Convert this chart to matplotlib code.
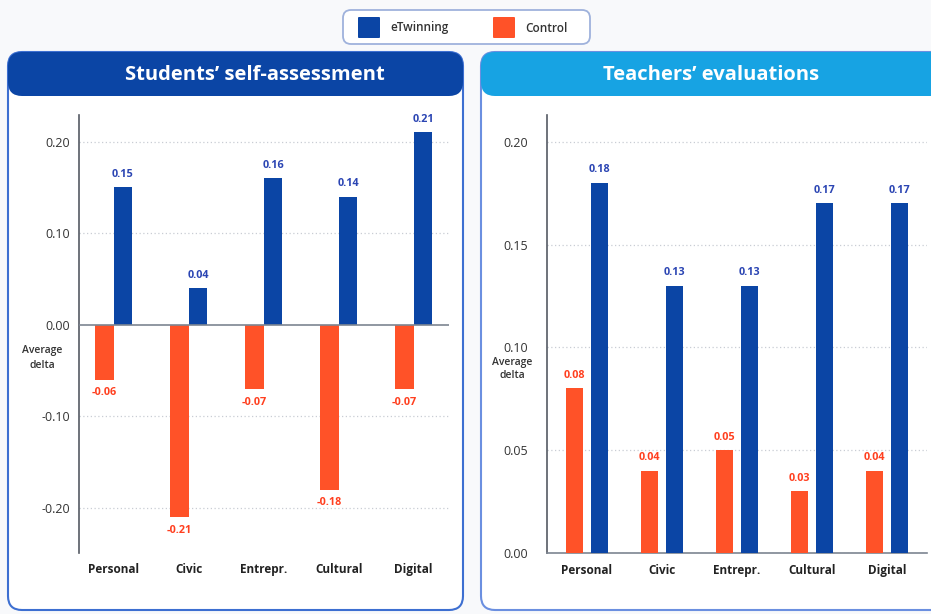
import numpy as np
import matplotlib
matplotlib.use('Agg')
import matplotlib.pyplot as plt
from matplotlib.patches import FancyBboxPatch

plt.rcParams['font.family'] = ['Open Sans', 'DejaVu Sans']

# Data
categories = ['Personal', 'Civic', 'Entrepr.', 'Cultural', 'Digital']
students_etwinning = [0.15, 0.04, 0.16, 0.14, 0.21]
students_control = [-0.06, -0.21, -0.07, -0.18, -0.07]
teachers_etwinning = [0.18, 0.13, 0.13, 0.17, 0.17]
teachers_control = [0.08, 0.04, 0.05, 0.03, 0.04]
series_names = ['eTwinning', 'Control']

BLUE = '#0b45a5'
ORANGE = '#ff5228'
BLUE_TXT = '#2b45b3'
ORANGE_TXT = '#ff3f1f'

W, H = 931, 614
fig = plt.figure(figsize=(W / 100, H / 100), dpi=100)
fig.patch.set_facecolor('#f8f9fb')


def rbox(x0, y0, x1, y1, r, **kw):
    # rounded box in pixel coords (top-left origin)
    p = FancyBboxPatch((x0 / 100, (H - y1) / 100), (x1 - x0) / 100, (y1 - y0) / 100,
                       boxstyle=f"round,pad=0,rounding_size={r / 100}",
                       transform=fig.dpi_scale_trans, **kw)
    fig.patches.append(p)
    return p


def ftext(x, y, s, **kw):
    fig.text(x / W, 1 - y / H, s, **kw)


def ax_rect(x0, y0, x1, y1):
    return [x0 / W, 1 - y1 / H, (x1 - x0) / W, (y1 - y0) / H]


# Panels
rbox(8, 52, 463, 610, 14, facecolor='white', edgecolor='#3d6fd1', lw=1.5, zorder=-5)
rbox(8, 52, 463, 96, 14, facecolor=BLUE, edgecolor='none', zorder=-4)
ftext(255, 75, 'Students\u2019 self-assessment', color='white', fontsize=14.5,
      fontweight='bold', ha='center', va='center')

rbox(481, 52, 950, 610, 14, facecolor='white', edgecolor='#6b8fe0', lw=1.5, zorder=-5)
rbox(481, 52, 950, 96, 14, facecolor='#17a3e3', edgecolor='none', zorder=-4)
ftext(711, 75, 'Teachers\u2019 evaluations', color='white', fontsize=14.5,
      fontweight='bold', ha='center', va='center')

# Legend
rbox(343, 10, 590, 44, 8, facecolor='white', edgecolor='#9fb2dc', lw=1.3, zorder=-5)
rbox(358, 17, 380, 38, 1, facecolor=BLUE, edgecolor='none', zorder=-4)
rbox(493, 17, 515, 38, 1, facecolor=ORANGE, edgecolor='none', zorder=-4)
ftext(390, 28, series_names[0], fontsize=8.5, fontweight='semibold', color='#333333', va='center')
ftext(525, 28, series_names[1], fontsize=8.5, fontweight='semibold', color='#333333', va='center')


def style_ax(ax, ypad, xpad):
    ax.set_facecolor('none')
    for s in ['top', 'right', 'bottom']:
        ax.spines[s].set_visible(False)
    ax.spines['left'].set_color('#555a63')
    ax.spines['left'].set_linewidth(1.2)
    ax.tick_params(axis='both', length=0)
    ax.tick_params(axis='y', pad=ypad, labelsize=9, labelcolor='#333333')
    ax.tick_params(axis='x', pad=xpad, labelsize=8.5, labelcolor='#222222')
    for lab in ax.get_xticklabels():
        lab.set_fontweight('bold')
    ax.grid(axis='y', linestyle=(0, (1, 2)), color='#c9cdd4', lw=0.9)
    ax.set_axisbelow(True)


def label_bars(ax, xs, vals, color):
    for xv, v in zip(xs, vals):
        ax.annotate(f'{v:.2f}', (xv, v), xytext=(0, 5.5 if v >= 0 else -5.5),
                    textcoords='offset points', ha='center',
                    va='bottom' if v >= 0 else 'top',
                    fontsize=7.8, fontweight='bold', color=color)


x = np.arange(len(categories))

# Left: students
ax1 = fig.add_axes(ax_rect(79, 115, 449, 553))
w1 = 0.25
ax1.bar(x - w1 / 2, students_control, w1, color=ORANGE, zorder=3)
ax1.bar(x + w1 / 2, students_etwinning, w1, color=BLUE, zorder=3)
label_bars(ax1, x - w1 / 2, students_control, ORANGE_TXT)
label_bars(ax1, x + w1 / 2, students_etwinning, BLUE_TXT)
ax1.axhline(0, color='#7d8591', lw=1.2, zorder=4)
ax1.set_xlim(-0.46, 4.47)
ax1.set_ylim(-0.249, 0.229)
ax1.set_yticks([-0.2, -0.1, 0.0, 0.1, 0.2])
ax1.set_yticklabels([f'{t:.2f}' for t in [-0.2, -0.1, 0.0, 0.1, 0.2]])
ax1.set_xticks(x, categories)
style_ax(ax1, 6.5, 7)
ax1.grid(False)
for t in [-0.2, -0.1, 0.1, 0.2]:
    ax1.axhline(t, linestyle=(0, (1, 2)), color='#c9cdd4', lw=0.9, zorder=0)
ftext(42, 351, 'Average', fontsize=7.5, fontweight='semibold', color='#333333', ha='center', va='center')
ftext(42, 365, 'delta', fontsize=7.5, fontweight='semibold', color='#333333', ha='center', va='center')

# Right: teachers
ax2 = fig.add_axes(ax_rect(547, 115, 927, 553))
off2, w2 = 0.167, 0.225
ax2.bar(x - off2, teachers_control, w2, color=ORANGE, zorder=3)
ax2.bar(x + off2, teachers_etwinning, w2, color=BLUE, zorder=3)
label_bars(ax2, x - off2, teachers_control, ORANGE_TXT)
label_bars(ax2, x + off2, teachers_etwinning, BLUE_TXT)
ax2.set_xlim(-0.533, 4.53)
ax2.set_ylim(0, 0.213)
ax2.set_yticks([0.0, 0.05, 0.10, 0.15, 0.20])
ax2.set_yticklabels([f'{t:.2f}' for t in [0.0, 0.05, 0.10, 0.15, 0.20]])
ax2.set_xticks(x, categories)
style_ax(ax2, 14, 8)
ax2.spines['bottom'].set_visible(True)
ax2.spines['bottom'].set_color('#7d8591')
ax2.spines['bottom'].set_linewidth(1.2)
ftext(512, 362, 'Average', fontsize=7.5, fontweight='semibold', color='#333333', ha='center', va='center')
ftext(512, 376, 'delta', fontsize=7.5, fontweight='semibold', color='#333333', ha='center', va='center')

fig.savefig('out.png', dpi=100, facecolor=fig.get_facecolor())
